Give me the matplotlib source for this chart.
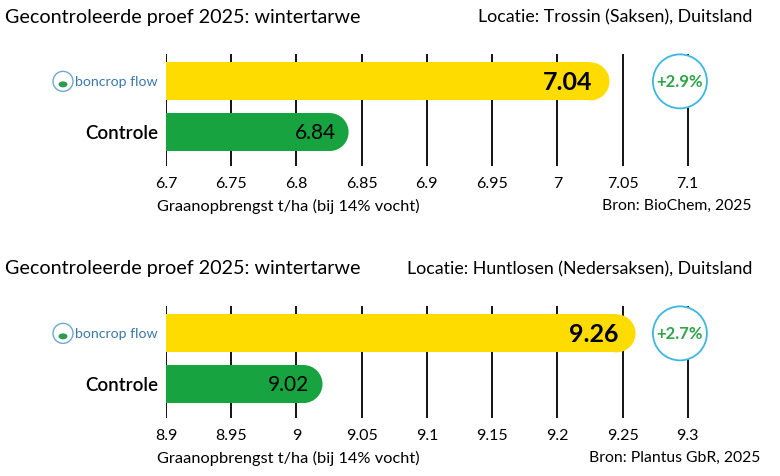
import matplotlib
matplotlib.use("Agg")
import matplotlib.pyplot as plt
from matplotlib.patches import Ellipse, Circle

plt.rcParams["font.family"] = ["Lato", "DejaVu Sans"]

# data
categories = ["boncrop flow", "Controle"]
trossin_values = [7.04, 6.84]
huntlosen_values = [9.26, 9.02]
trossin_ticks = [6.7, 6.75, 6.8, 6.85, 6.9, 6.95, 7.0, 7.05, 7.1]
huntlosen_ticks = [8.9, 8.95, 9.0, 9.05, 9.1, 9.15, 9.2, 9.25, 9.3]
trossin_tick_labels = ["6.7", "6.75", "6.8", "6.85", "6.9", "6.95", "7", "7.05", "7.1"]
huntlosen_tick_labels = ["8.9", "8.95", "9", "9.05", "9.1", "9.15", "9.2", "9.25", "9.3"]
titles = ["Gecontroleerde proef 2025: wintertarwe"] * 2
locations = ["Locatie: Trossin (Saksen), Duitsland",
             "Locatie: Huntlosen (Nedersaksen), Duitsland"]
sources = ["Bron: BioChem, 2025", "Bron: Plantus GbR, 2025"]
xlabel = "Graanopbrengst t/ha (bij 14% vocht)"

YELLOW = "#FFDC00"
GREEN = "#16A340"
CYAN = "#3BB8DE"
PCT_GREEN = "#2EA44B"
LOGO_BLUE = "#3A78A8"

W, H = 780, 477
fig = plt.figure(figsize=(W / 100, H / 100), dpi=100)


def px(x, y):
    return x / W, 1 - y / H


def panel(top, values, ticks, tick_labels, title, location, source, src_right):
    x0 = ticks[0]
    span = 0.46
    ax_top, ax_bot = top, top + 112
    ylo, yhi = -0.54, 1.67
    left, bottom = px(166, ax_bot)
    ax_w_px = 600
    ax_h_px = ax_bot - ax_top
    ax = fig.add_axes([left, bottom, ax_w_px / W, ax_h_px / H])
    ax.set_xlim(x0, x0 + span)
    ax.set_ylim(yhi, ylo)
    for s in ax.spines.values():
        s.set_visible(False)
    ax.set_yticks([])
    ax.set_xticks(ticks)
    ax.set_xticklabels(tick_labels, fontsize=11.5)
    ax.tick_params(axis="x", length=0, pad=7)
    for t in ticks:
        ax.axvline(t, color="black", lw=1.3, zorder=1)

    # rounded bar ends
    bh = 0.75
    unit_px_y = ax_h_px / (yhi - ylo)
    r_px = bh * unit_px_y / 2
    r_x = r_px / ax_w_px * span
    colors = [YELLOW, GREEN]
    for i, v in enumerate(values):
        ax.barh(i, v - r_x - x0, left=x0, height=bh, color=colors[i],
                zorder=2, linewidth=0)
        ax.add_patch(Ellipse((v - r_x, i), 2 * r_x, bh,
                             color=colors[i], zorder=2, linewidth=0))
    ax.text(values[0] - 0.013, 0, f"{values[0]:.2f}", ha="right", va="center",
            fontsize=18, fontweight="bold", zorder=3)
    ax.text(values[1] - 0.010, 1, f"{values[1]:.2f}", ha="right", va="center",
            fontsize=15, zorder=3)

    # percent circle
    pct = (values[0] - values[1]) / values[1] * 100
    cx = ticks[-1] - 0.006
    circ = Ellipse((cx, 0), 54 / ax_w_px * span, 54 / unit_px_y,
                   facecolor="white", edgecolor=CYAN, lw=1.3, zorder=4,
                   clip_on=False)
    ax.add_patch(circ)
    ax.text(cx, 0, f"+{pct:.1f}%", ha="center", va="center", fontsize=12,
            fontweight="bold", color=PCT_GREEN, zorder=5)

    # category labels
    ax.text(-0.013, 1, categories[1], transform=ax.get_yaxis_transform(),
            ha="right", va="center", fontsize=13.5, fontweight="semibold")
    # logo
    yc = top + 0.54 * unit_px_y
    fig.text(*px(158, yc), "boncrop flow", ha="right", va="center",
             fontsize=10.2, color=LOGO_BLUE)
    fig.patches.append(Circle((63, H - yc), 10, transform=None,
                              facecolor="white", edgecolor="#6FA9D0", lw=1.0))
    fig.patches.append(Ellipse((63, H - yc - 3), 9, 6, transform=None,
                               facecolor="#2E9A52", edgecolor="none"))

    fig.text(*px(5, top - 38), title, ha="left", va="center", fontsize=14.2)
    fig.text(*px(752, top - 38), location, ha="right", va="center",
             fontsize=12.8)
    fig.text(*px(157, ax_bot + 39), xlabel, ha="left", va="center",
             fontsize=11.8)
    fig.text(*px(src_right, ax_bot + 39), source, ha="right", va="center",
             fontsize=11.3)


panel(55, trossin_values, trossin_ticks, trossin_tick_labels,
      titles[0], locations[0], sources[0], 752)
panel(307, huntlosen_values, huntlosen_ticks, huntlosen_tick_labels,
      titles[1], locations[1], sources[1], 760)

fig.savefig("out.png", dpi=100)
